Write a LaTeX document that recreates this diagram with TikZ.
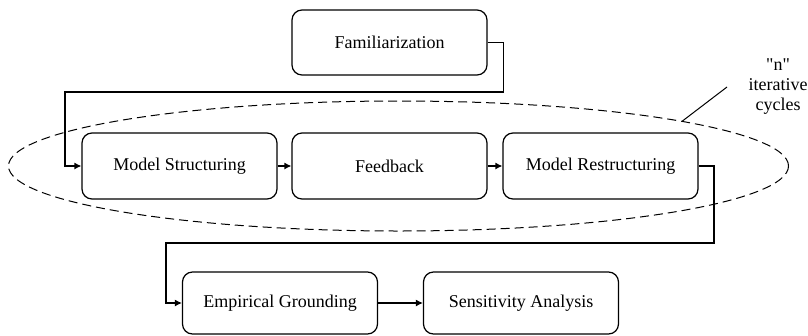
\documentclass[tikz,border=0pt]{standalone}
\usepackage{fontspec}
\setmainfont{Liberation Serif}
\newfontfamily\plainserif{Liberation Serif}
\usetikzlibrary{arrows.meta,shapes.geometric}

\begin{document}
\begin{tikzpicture}[x=1pt, y=-1pt, line width=1.2pt,
        stage/.style={draw, rounded corners=10pt, minimum width=195pt, minimum height=65pt,
            inner sep=0pt, font=\fontsize{18}{21}\selectfont},
        flow/.style={-{Latex[length=7pt,width=7pt]}}]
            \useasboundingbox (0,0) rectangle (808,335);

            \node[stage] (fam) at (389.5, 42.5) {Familiarization};
            \node[stage, minimum height=66pt] (ms) at (179.5, 166) {Model Structuring};
            \node[stage, minimum height=66pt] (fb) at (389.5, 166) {Feedback};
            \node[stage, minimum height=66pt] (mr) at (600.5, 166) {Model Restructuring};
            \node[stage, minimum height=62pt] (eg) at (280, 303) {Empirical Grounding};
            \node[stage, minimum height=62pt] (sa) at (521, 303) {Sensitivity Analysis};

            \node[ellipse, draw, dash pattern=on 9pt off 5pt, line width=1pt,
                minimum width=780pt, minimum height=130pt, inner sep=0pt] (loop) at (398.5, 166) {};
            \node[align=center, font=\plainserif\fontsize{18}{20}\selectfont] (cycles) at (778, 87) {"n"\\iterative\\cycles};
            \coordinate (tip) at (727, 87);
            \coordinate (bend1) at (65, 92);
            \coordinate (bend2) at (714, 243);
            \coordinate (bend3) at (166, 243);

            \draw[flow] (fam.east) -- ++(16,0) |- (bend1) |- (ms.west);
            \draw[flow] (ms) -- (fb);
            \draw[flow] (fb) -- (mr);
            \draw[flow] (mr.east) -| (bend2) -- (bend3) |- (eg.west);
            \draw[flow] (eg) -- (sa);
            \draw[line width=1pt] (loop.9.4) -- (tip);
        \end{tikzpicture}
\end{document}
